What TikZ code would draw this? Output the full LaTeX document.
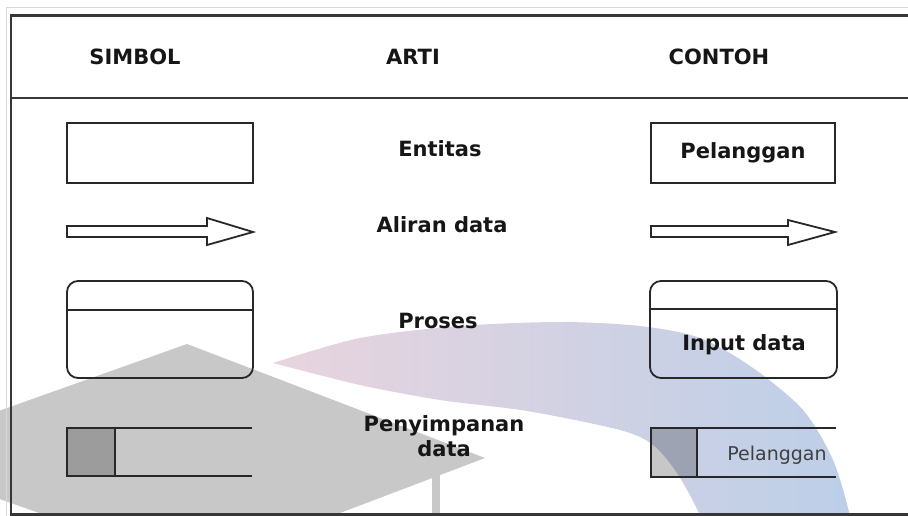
\documentclass[tikz,border=0pt]{standalone}
\usepackage{fontspec}
\setmainfont{DejaVu Sans}
\definecolor{ink}{RGB}{22,22,22}
\definecolor{lineink}{RGB}{40,40,40}
\definecolor{framecol}{RGB}{55,55,55}
\definecolor{lightframe}{RGB}{216,216,216}
\definecolor{capgray}{RGB}{200,200,200}
\definecolor{arcpink}{RGB}{232,212,222}
\definecolor{arcmid}{RGB}{200,210,232}
\definecolor{arcblue}{RGB}{188,207,232}
\definecolor{smalltext}{RGB}{64,64,64}
\begin{document}
\begin{tikzpicture}[x=1pt,y=-1pt,
  lbl/.style={font=\fontsize{21}{25}\selectfont\bfseries, text=ink, inner sep=0pt, anchor=base},
  sym/.style={draw=lineink, line width=1.8pt},
  symbox/.style={sym, rectangle, inner sep=0pt},
  procbox/.style={sym, rectangle, rounded corners=11pt, inner sep=0pt},
  frame/.style={draw=framecol, line width=2.8pt},
  storefill/.style={fill=black, fill opacity=0.22}]
\useasboundingbox (0,0) rectangle (908,516);
% watermark
\begin{scope}
\clip (0,0) rectangle (908,516);
\fill[capgray] (187,344) -- (485,458) -- (195,568) -- (-125,455) -- cycle;
\fill[capgray] (432,470) rectangle (440,516);
\shade[left color=arcpink, middle color=arcmid, right color=arcblue]
  plot[smooth] coordinates {(273,363) (360,338) (460,326) (560,322) (640,326) (700,338) (753,368) (803,410) (833,460) (850,516) (854,545)}
  -- plot[smooth] coordinates {(704,545) (700,516) (677,473) (653,445) (620,430) (527,411) (440,400) (360,385) (273,363)}
  -- cycle;
\end{scope}
% frame
\draw[lightframe, line width=0.8pt] (6,516) -- (6,7) -- (908,7);
\draw[frame] (11,516) -- (11,15.5) -- (908,15.5);
\draw[frame] (11,98) -- (908,98);
\draw[frame] (11,514.5) -- (908,514.5);
% headers
\node[lbl] (hsim) at (135,65) {SIMBOL};
\node[lbl] (harti) at (413,65) {ARTI};
\node[lbl] (hcon) at (719,65) {CONTOH};
% meaning column
\node[lbl] (tent) at (440,157) {Entitas};
\node[lbl] (talir) at (442,232) {Aliran data};
\node[lbl] (tpro) at (438,328) {Proses};
\node[lbl] (tpen) at (444,431) {Penyimpanan};
\node[lbl] (tdat) at (444,456) {data};
% symbol column
\node[symbox, minimum width=186pt, minimum height=60pt] (sent) at (160,153) {};
\draw[sym, line join=miter] (67,226) -- (207,226) -- (207,218) -- (253,232) -- (207,245) -- (207,237) -- (67,237) -- cycle;
\node[procbox, minimum width=186pt, minimum height=97pt] (sproc) at (160,329.5) {};
\draw[sym] ([yshift=-30pt]sproc.north west) -- ([yshift=-30pt]sproc.north east);
\fill[storefill] (67,428) rectangle (115,476);
\draw[sym] (252,428) -- (67,428) -- (67,476) -- (252,476);
\draw[sym] (115,428) -- (115,476);
% example column
\node[symbox, minimum width=184pt, minimum height=60pt] (eent) at (743,153) {};
\node[lbl] (tpel) at (743,158.5) {Pelanggan};
\draw[sym, line join=miter] (651,226) -- (788,226) -- (788,220) -- (835,232) -- (788,245) -- (788,237) -- (651,237) -- cycle;
\node[procbox, minimum width=187pt, minimum height=97pt] (eproc) at (743.5,329.5) {};
\draw[sym] ([yshift=-29pt]eproc.north west) -- ([yshift=-29pt]eproc.north east);
\node[lbl] (tinp) at (744,350) {Input data};
\fill[storefill] (651,428) rectangle (697,477);
\draw[sym] (836,428) -- (651,428) -- (651,477) -- (836,477);
\draw[sym] (697,428) -- (697,477);
\node[font=\fontsize{19}{23}\selectfont, text=smalltext, inner sep=0pt, anchor=base] (tstore) at (777,460) {Pelanggan};
\end{tikzpicture}
\end{document}
